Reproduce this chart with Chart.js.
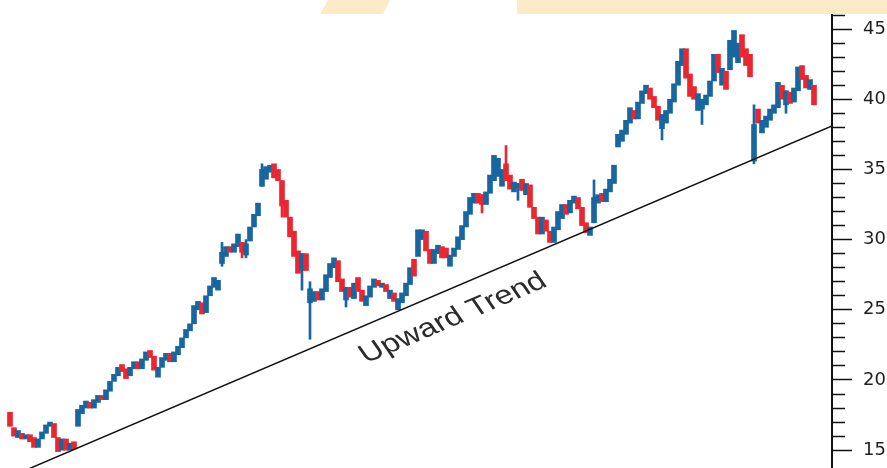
<!DOCTYPE html>
<html lang="en">
<head>
    <meta charset="UTF-8">
    <title>Upward Trend</title>
    <script src="https://cdn.jsdelivr.net/npm/chart.js"></script>
    <style>
        html, body { margin: 0; padding: 0; background: #fff; overflow: hidden; }
        .wrap { position: relative; width: 900px; height: 468px; }
        .band { position: absolute; top: 0; height: 14px; background: #fcebc9; z-index: 2; }
        .band.slant { left: 320px; width: 70px; clip-path: polygon(8px 0, 70px 0, 63px 14px, 0 14px); }
        .band.wide { left: 517px; width: 383px; }
    </style>
</head>
<body>
    <div class="wrap">
        <div class="band slant"></div>
        <div class="band wide"></div>
        <canvas id="trendChart"></canvas>
    </div>

    <script>
        // candle bodies, one per session
        const opens = [
            17.7, 16.6, 15.9, 16.2, 15.8, 16.1, 15.9, 15.2, 15.8, 16.2,
            16.7, 16.9, 15.9, 15.0, 15.8, 15.0, 15.6, 16.7, 17.6, 18.0,
            18.4, 18.0, 18.4, 18.9, 18.6, 19.2, 19.9, 20.3, 21.1, 20.8,
            20.3, 20.8, 21.3, 20.8, 21.4, 22.1, 21.7, 20.2, 20.9, 21.4,
            21.9, 21.3, 21.8, 22.3, 23.0, 23.5, 24.0, 25.0, 25.5, 24.8,
            26.0, 26.6, 26.4, 28.3, 28.8, 29.5, 29.1, 29.5, 29.8, 28.9,
            29.9, 30.9, 31.7, 33.8, 34.3, 34.8, 35.4, 35.0, 34.2, 32.8,
            31.6, 30.6, 29.2, 27.8, 29.0, 25.5, 25.6, 26.3, 25.7, 26.3,
            27.3, 28.0, 28.5, 27.2, 25.7, 26.6, 25.8, 27.3, 26.4, 25.3,
            25.9, 26.6, 27.1, 26.6, 26.8, 25.8, 26.2, 25.0, 25.5, 26.0,
            26.8, 28.6, 28.8, 30.0, 30.6, 29.3, 28.3, 29.0, 29.5, 29.4,
            28.1, 28.8, 29.3, 30.0, 30.9, 31.8, 32.6, 33.3, 33.2, 32.5,
            33.3, 34.2, 34.5, 33.8, 35.4, 34.6, 33.4, 33.7, 34.3, 33.2,
            33.9, 32.3, 31.6, 30.4, 31.4, 30.6, 29.8, 30.7, 31.5, 32.5,
            31.9, 32.6, 33.0, 32.3, 31.2, 30.3, 31.2, 32.6, 33.3, 32.7,
            33.4, 34.0, 36.6, 37.0, 37.5, 38.3, 39.2, 38.6, 39.7, 40.4,
            40.8, 40.2, 39.5, 37.9, 38.3, 39.0, 39.8, 41.0, 42.4, 43.6,
            41.8, 40.9, 39.2, 39.3, 39.6, 40.2, 41.3, 43.2, 41.0, 42.0,
            42.1, 43.0, 42.6, 44.6, 43.6, 43.2, 35.6, 39.3, 37.6, 38.0,
            38.5, 39.0, 39.4, 41.0, 39.6, 40.5, 39.8, 40.6, 42.4, 41.7,
            40.7, 41.0
        ];
        const closes = [
            16.7, 16.0, 16.4, 15.8, 16.1, 15.6, 15.2, 15.8, 16.3, 16.8,
            17.0, 15.9, 14.9, 15.8, 15.0, 15.5, 15.1, 17.9, 18.2, 18.5,
            18.0, 18.6, 18.9, 18.6, 19.3, 19.9, 20.4, 20.9, 20.6, 20.1,
            20.9, 21.3, 20.8, 21.5, 22.0, 21.6, 20.7, 20.9, 21.6, 21.9,
            21.3, 22.0, 22.4, 23.0, 23.6, 24.0, 25.3, 25.6, 24.7, 26.0,
            26.7, 27.3, 27.1, 29.1, 29.5, 29.1, 29.7, 30.4, 29.1, 29.7,
            30.9, 31.8, 32.6, 35.0, 35.2, 35.3, 34.4, 34.2, 32.4, 31.6,
            30.2, 28.8, 27.6, 29.0, 27.8, 26.5, 26.3, 25.7, 26.5, 27.5,
            28.3, 28.7, 27.0, 26.3, 26.6, 25.9, 26.9, 26.3, 25.6, 26.0,
            26.7, 27.2, 26.7, 26.9, 26.3, 26.4, 25.6, 25.8, 26.2, 26.9,
            28.0, 27.4, 30.7, 30.7, 29.2, 28.3, 29.3, 29.6, 28.7, 28.7,
            28.9, 29.4, 30.2, 31.0, 32.0, 33.0, 33.3, 32.6, 32.5, 33.4,
            34.6, 36.0, 35.8, 35.0, 34.2, 33.6, 34.1, 34.0, 33.5, 34.0,
            32.3, 31.5, 30.4, 31.6, 30.6, 29.8, 30.9, 32.0, 32.5, 31.8,
            32.8, 33.1, 32.2, 31.0, 30.5, 30.9, 33.0, 33.2, 32.7, 33.6,
            34.3, 35.3, 37.5, 37.8, 38.5, 39.4, 38.6, 39.8, 40.6, 41.0,
            40.0, 39.4, 38.5, 38.9, 39.2, 40.0, 41.1, 42.7, 43.6, 41.5,
            40.2, 40.0, 40.4, 40.0, 40.3, 41.3, 43.2, 41.9, 42.2, 40.7,
            44.2, 44.9, 44.0, 43.0, 42.4, 41.6, 38.2, 38.3, 38.5, 38.8,
            39.3, 39.6, 41.2, 40.0, 40.6, 39.7, 40.8, 42.3, 41.4, 40.8,
            41.4, 39.6
        ];
        // longer shadows that stick out of the bodies: [session, low, high]
        const wicks = [
            [53, 28.1, 29.8], [58, 28.7, 29.8], [59, 28.7, 30.0], [63, 33.8, 35.4],
            [68, 31.6, 34.2], [73, 26.4, 29.0], [75, 22.9, 27.0], [84, 25.2, 26.6],
            [118, 31.9, 33.2], [124, 34.2, 36.7], [127, 32.8, 34.0], [146, 31.2, 34.25],
            [163, 37.1, 38.9], [173, 38.2, 40.0], [186, 35.4, 39.6], [194, 39.0, 40.6]
        ];
        const trendStart = { x: 0, y: 13.1 };
        const trendEnd = { x: 205.5, y: 38.1 };
        const trendLabel = { text: 'Upward Trend', x: 110.75, y: 24.4 };
        const yTicksMajor = [15, 20, 25, 30, 35, 40, 45];

        const UP = '#17669f';
        const DOWN = '#ea2630';
        const candleColor = (i) => closes[i] >= opens[i] ? UP : DOWN;

        const bodyData = opens.map((o, i) => ({ x: i, y: [o, closes[i]] }));
        const wickData = wicks.map(w => ({ x: w[0], y: [w[1], w[2]] }));

        // the source picture is stretched sideways, so the label is too
        const stretch = 1.27;
        const trendText = {
            id: 'trendText',
            afterDatasetsDraw(chart) {
                const { ctx, scales: { x, y } } = chart;
                const px = x.getPixelForValue(trendLabel.x);
                const py = y.getPixelForValue(trendLabel.y);
                const dx = x.getPixelForValue(trendEnd.x) - x.getPixelForValue(trendStart.x);
                const dy = y.getPixelForValue(trendEnd.y) - y.getPixelForValue(trendStart.y);
                ctx.save();
                ctx.translate(px, py);
                ctx.scale(stretch, 1);
                ctx.rotate(Math.atan2(dy, dx / stretch));
                ctx.font = '26px "Liberation Sans", Arial, sans-serif';
                ctx.fillStyle = '#2b2b2b';
                ctx.textAlign = 'center';
                ctx.textBaseline = 'middle';
                ctx.fillText(trendLabel.text, 0, 0);
                ctx.restore();
            }
        };

        new Chart(document.getElementById('trendChart'), {
            type: 'bar',
            data: {
                datasets: [
                    {
                        label: 'body',
                        data: bodyData,
                        backgroundColor: bodyData.map((d, i) => candleColor(i)),
                        barThickness: 5,
                        grouped: false,
                        order: 1
                    },
                    {
                        label: 'wick',
                        data: wickData,
                        backgroundColor: wicks.map(w => candleColor(w[0])),
                        barThickness: 2,
                        grouped: false,
                        order: 2
                    },
                    {
                        type: 'line',
                        label: 'trend',
                        data: [trendStart, trendEnd],
                        borderColor: '#111',
                        borderWidth: 1.5,
                        pointRadius: 0,
                        order: 0
                    }
                ]
            },
            options: {
                responsive: true,
                maintainAspectRatio: false,
                animation: false,
                layout: { padding: 0 },
                plugins: {
                    legend: { display: false },
                    tooltip: { enabled: false }
                },
                scales: {
                    x: {
                        type: 'linear',
                        display: false,
                        offset: false,
                        min: -2.5,
                        max: 205.5
                    },
                    y: {
                        position: 'right',
                        min: 13.73,
                        max: 47.07,
                        afterBuildTicks: (s) => {
                            s.ticks = s.ticks.filter(t => Number.isInteger(t.value));
                        },
                        afterFit: (s) => {
                            s.width = 68;
                            s.paddingTop = 0;
                            s.paddingBottom = 0;
                        },
                        ticks: {
                            stepSize: 1,
                            autoSkip: false,
                            padding: 11,
                            color: '#1f1f1f',
                            font: { family: '"DejaVu Sans", Arial, sans-serif', size: 18 },
                            callback: (v) => yTicksMajor.includes(v) ? String(v) : ''
                        },
                        grid: {
                            drawOnChartArea: false,
                            tickLength: 20,
                            tickColor: '#111',
                            tickWidth: 1.5,
                            tickBorderDash: (c) => yTicksMajor.includes(c.tick && c.tick.value) ? [] : [12, 40]
                        },
                        border: { display: true, color: '#111', width: 2 }
                    }
                }
            },
            plugins: [trendText]
        });
    </script>
</body>
</html>
